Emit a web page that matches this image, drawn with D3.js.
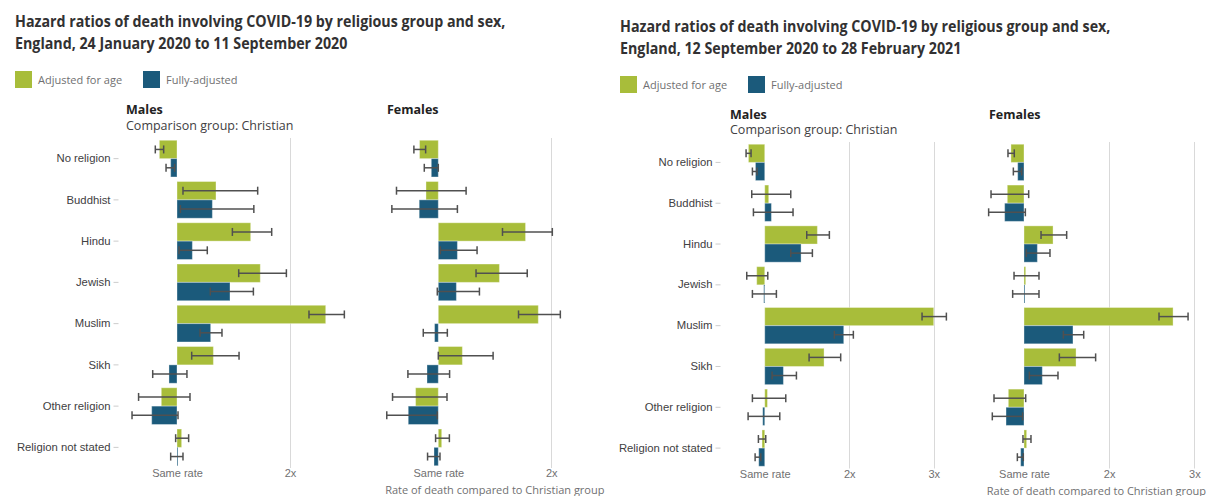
<!DOCTYPE html>
<html lang="en">
<head>
<meta charset="UTF-8">
<title>Hazard ratios of death involving COVID-19 by religious group and sex</title>
<script src="https://d3js.org/d3.v7.min.js"></script>
<style>
  body { margin: 0; background: #fff; }
  svg { font-family: "Open Sans", sans-serif; }
  .title { font-size: 15.5px; font-weight: 700; fill: #323132; }
  .legend text { font-size: 11px; fill: #707071; }
  .panel-title { font-size: 12.5px; font-weight: 700; fill: #222; }
  .subtitle { font-size: 12.5px; fill: #414042; }
  .y-axis text { font-size: 11.3px; fill: #414042; }
  .y-axis line { stroke: #ccc; }
  .x-axis text { font-size: 11px; fill: #707071; }
  .axis-title { font-size: 11px; fill: #707071; }
  .grid line { stroke: #d9d9d9; stroke-width: 1; }
  .err { stroke: #505050; stroke-width: 1.5; fill: none; }
</style>
</head>
<body>
<script>
// Categories (comparison group: Christian)
const categories = ["No religion", "Buddhist", "Hindu", "Jewish", "Muslim", "Sikh", "Other religion", "Religion not stated"];
const seriesNames = ["Adjusted for age", "Fully-adjusted"];

// Period 1: 24 January 2020 to 11 September 2020
const p1MalesAge    = [0.844, 1.345, 1.652, 1.737, 2.316, 1.322, 0.861, 1.041];
const p1MalesAgeLo  = [0.808, 1.053, 1.490, 1.546, 2.168, 1.130, 0.660, 0.988];
const p1MalesAgeHi  = [0.882, 1.714, 1.838, 1.968, 2.481, 1.549, 1.115, 1.103];
const p1MalesFull   = [0.944, 1.313, 1.136, 1.469, 1.298, 0.929, 0.776, 1.000];
const p1MalesFullLo = [0.903, 1.030, 1.018, 1.295, 1.204, 0.785, 0.602, 0.944];
const p1MalesFullHi = [0.979, 1.680, 1.268, 1.676, 1.398, 1.088, 1.009, 1.053];

const p1FemalesAge    = [0.834, 0.891, 1.772, 1.541, 1.885, 1.213, 0.799, 1.030];
const p1FemalesAgeLo  = [0.784, 0.630, 1.568, 1.334, 1.710, 1.000, 0.595, 0.976];
const p1FemalesAgeHi  = [0.888, 1.246, 2.009, 1.787, 2.080, 1.485, 1.077, 1.098];
const p1FemalesFull   = [0.938, 0.831, 1.169, 1.160, 0.967, 0.900, 0.734, 0.962];
const p1FemalesFullLo = [0.876, 0.589, 1.018, 0.991, 0.867, 0.731, 0.544, 0.905];
const p1FemalesFullHi = [1.000, 1.169, 1.343, 1.364, 1.080, 1.100, 0.991, 1.015];

// Period 2: 12 September 2020 to 28 February 2021
const p2MalesAge    = [0.807, 1.047, 1.623, 0.905, 3.000, 1.702, 1.032, 0.968];
const p2MalesAgeLo  = [0.779, 0.846, 1.497, 0.787, 2.862, 1.525, 0.854, 0.925];
const p2MalesAgeHi  = [0.838, 1.308, 1.765, 1.036, 3.150, 1.899, 1.249, 1.012];
const p2MalesFull   = [0.890, 1.079, 1.430, 0.988, 1.935, 1.221, 0.976, 0.929];
const p2MalesFullLo = [0.854, 0.866, 1.308, 0.854, 1.824, 1.087, 0.803, 0.886];
const p2MalesFullHi = [0.909, 1.335, 1.564, 1.138, 2.049, 1.375, 1.178, 0.953];

const p2FemalesAge    = [0.847, 0.804, 1.341, 1.020, 2.750, 1.611, 0.816, 1.031];
const p2FemalesAgeLo  = [0.812, 0.613, 1.200, 0.883, 2.585, 1.415, 0.648, 0.988];
const p2FemalesAgeHi  = [0.886, 1.055, 1.501, 1.176, 2.926, 1.841, 1.020, 1.082];
const p2FemalesFull   = [0.926, 0.773, 1.157, 1.005, 1.575, 1.215, 0.789, 0.961];
const p2FemalesFullLo = [0.875, 0.585, 1.027, 0.867, 1.462, 1.063, 0.628, 0.922];
const p2FemalesFullHi = [0.973, 1.016, 1.305, 1.176, 1.701, 1.399, 0.984, 0.992];

const p1Ticks = [1, 2];
const p2Ticks = [1, 2, 3];
const tickLabel = v => v === 1 ? "Same rate" : v + "x";

const colors = ["#a8bd3a", "#1b5a7b"];

const svg = d3.select("body").append("svg")
    .attr("width", 1206)
    .attr("height", 496);

// one small-multiple panel (males or females)
function drawPanel(opts) {
    const x = d3.scaleLinear().domain(opts.domain).range(opts.xRange);
    const y = d3.scaleBand().domain(categories).range(opts.yRange)
        .paddingInner(0.11).paddingOuter(0.055);
    const g = svg.append("g");

    // gridlines (not at "same rate")
    g.append("g").attr("class", "grid")
        .selectAll("line")
        .data(opts.ticks.filter(t => t !== 1))
        .join("line")
        .attr("x1", d => Math.round(x(d)) + 0.5).attr("x2", d => Math.round(x(d)) + 0.5)
        .attr("y1", opts.yRange[0]).attr("y2", opts.yRange[1]);

    // x tick labels
    const xAxis = g.append("g").attr("class", "x-axis")
        .attr("transform", `translate(0,${opts.yRange[1]})`)
        .call(d3.axisBottom(x).tickValues(opts.ticks).tickFormat(tickLabel).tickSize(0).tickPadding(1.5));
    xAxis.select(".domain").remove();

    if (opts.yAxis) {
        const yAxis = g.append("g").attr("class", "y-axis")
            .attr("transform", `translate(${opts.xRange[0] - 2},0)`)
            .call(d3.axisLeft(y).tickSize(5).tickPadding(3));
        yAxis.select(".domain").remove();
    }

    const half = y.bandwidth() / 2;
    const series = [
        { vals: opts.age, lo: opts.ageLo, hi: opts.ageHi, off: 0, color: colors[0] },
        { vals: opts.full, lo: opts.fullLo, hi: opts.fullHi, off: half, color: colors[1] }
    ];

    series.forEach(s => {
        const rows = categories.map((c, i) => ({ c, v: s.vals[i], lo: s.lo[i], hi: s.hi[i] }));
        g.append("g").selectAll("rect")
            .data(rows)
            .join("rect")
            .attr("x", d => Math.min(x(1), x(d.v)))
            .attr("width", d => Math.max(1, Math.abs(x(d.v) - x(1))))
            .attr("y", d => y(d.c) + s.off)
            .attr("height", half)
            .attr("fill", s.color)
            .attr("stroke", "#fff")
            .attr("stroke-opacity", 0.35)
            .attr("stroke-width", 1);

        const eb = g.append("g").attr("class", "err").selectAll("g")
            .data(rows)
            .join("g")
            .attr("transform", d => `translate(0,${y(d.c) + s.off + half / 2})`);
        eb.append("line").attr("x1", d => x(d.lo)).attr("x2", d => x(d.hi));
        eb.append("line").attr("x1", d => x(d.lo)).attr("x2", d => x(d.lo)).attr("y1", -4).attr("y2", 4);
        eb.append("line").attr("x1", d => x(d.hi)).attr("x2", d => x(d.hi)).attr("y1", -4).attr("y2", 4);
    });

    g.append("text").attr("class", "panel-title")
        .attr("x", opts.titleX).attr("y", opts.titleY).text(opts.title);
    if (opts.subtitle) {
        g.append("text").attr("class", "subtitle")
            .attr("x", opts.titleX).attr("y", opts.titleY + 15.5).text(opts.subtitle);
    }
    if (opts.axisTitle) {
        g.append("text").attr("class", "axis-title")
            .attr("x", (opts.xRange[0] + opts.xRange[1]) / 2)
            .attr("y", opts.yRange[1] + 26)
            .attr("text-anchor", "middle")
            .text(opts.axisTitle);
    }
}

function drawHeader(x0, y0, lines) {
    // title font in the original is a little narrower than Open Sans bold
    lines.forEach((l, i) => svg.append("text").attr("class", "title")
        .attr("transform", `translate(${x0},${y0 + i * 22}) scale(0.92,1)`)
        .text(l));

    const lg = svg.append("g").attr("class", "legend")
        .attr("transform", `translate(${x0},${y0 + 44})`);
    const item = lg.selectAll("g").data(seriesNames).join("g")
        .attr("transform", (d, i) => `translate(${i * 128},0)`);
    item.append("rect").attr("width", 17).attr("height", 17).attr("fill", (d, i) => colors[i]);
    item.append("text").attr("x", 23).attr("y", 12.5).text(d => d);
}

// ---- chart 1 ----
drawHeader(15, 27, [
    "Hazard ratios of death involving COVID-19 by religious group and sex,",
    "England, 24 January 2020 to 11 September 2020"
]);
drawPanel({
    domain: [0.5, 2.5], xRange: [120.5, 346.5], yRange: [138, 468], ticks: p1Ticks, yAxis: true,
    age: p1MalesAge, ageLo: p1MalesAgeLo, ageHi: p1MalesAgeHi,
    full: p1MalesFull, fullLo: p1MalesFullLo, fullHi: p1MalesFullHi,
    title: "Males", subtitle: "Comparison group: Christian", titleX: 126, titleY: 114
});
drawPanel({
    domain: [0.5, 2.5], xRange: [381.8, 607.8], yRange: [138, 468], ticks: p1Ticks, yAxis: false,
    age: p1FemalesAge, ageLo: p1FemalesAgeLo, ageHi: p1FemalesAgeHi,
    full: p1FemalesFull, fullLo: p1FemalesFullLo, fullHi: p1FemalesFullHi,
    title: "Females", titleX: 387, titleY: 114,
    axisTitle: "Rate of death compared to Christian group"
});

// ---- chart 2 ----
drawHeader(620, 32, [
    "Hazard ratios of death involving COVID-19 by religious group and sex,",
    "England, 12 September 2020 to 28 February 2021"
]);
drawPanel({
    domain: [0.5, 3.2], xRange: [722.5, 950.6], yRange: [142, 468.5], ticks: p2Ticks, yAxis: true,
    age: p2MalesAge, ageLo: p2MalesAgeLo, ageHi: p2MalesAgeHi,
    full: p2MalesFull, fullLo: p2MalesFullLo, fullHi: p2MalesFullHi,
    title: "Males", subtitle: "Comparison group: Christian", titleX: 730, titleY: 118.5
});
drawPanel({
    domain: [0.5, 3.2], xRange: [981.4, 1211.4], yRange: [142, 468.5], ticks: p2Ticks, yAxis: false,
    age: p2FemalesAge, ageLo: p2FemalesAgeLo, ageHi: p2FemalesAgeHi,
    full: p2FemalesFull, fullLo: p2FemalesFullLo, fullHi: p2FemalesFullHi,
    title: "Females", titleX: 989, titleY: 118.5,
    axisTitle: "Rate of death compared to Christian group"
});
</script>
</body>
</html>
